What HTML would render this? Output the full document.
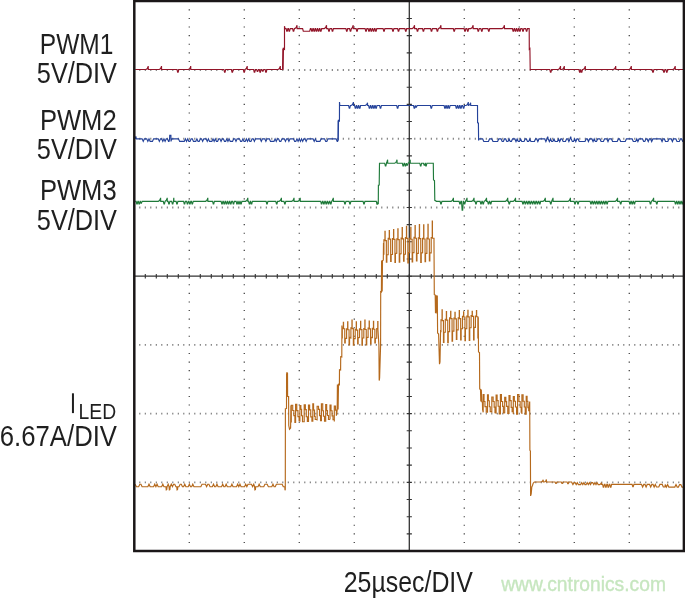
<!DOCTYPE html>
<html><head><meta charset="utf-8"><title>PWM dimming waveforms</title>
<style>html,body{margin:0;padding:0;background:#fff;}body{width:685px;height:600px;overflow:hidden;font-family:"Liberation Sans",sans-serif;}</style>
</head><body>
<svg width="685" height="600" viewBox="0 0 685 600" style="display:block">
<rect x="0" y="0" width="685" height="600" fill="#ffffff"/>
<path d="M188.60 9.89h1.4M188.60 18.48h1.4M188.60 27.07h1.4M188.60 35.66h1.4M188.60 44.25h1.4M188.60 52.84h1.4M188.60 61.43h1.4M188.60 78.61h1.4M188.60 87.20h1.4M188.60 95.79h1.4M188.60 104.38h1.4M188.60 112.97h1.4M188.60 121.56h1.4M188.60 130.15h1.4M188.60 147.33h1.4M188.60 155.92h1.4M188.60 164.51h1.4M188.60 173.10h1.4M188.60 181.69h1.4M188.60 190.28h1.4M188.60 198.87h1.4M188.60 216.05h1.4M188.60 224.64h1.4M188.60 233.23h1.4M188.60 241.82h1.4M188.60 250.41h1.4M188.60 259.00h1.4M188.60 267.59h1.4M188.60 284.77h1.4M188.60 293.36h1.4M188.60 301.95h1.4M188.60 310.54h1.4M188.60 319.13h1.4M188.60 327.72h1.4M188.60 336.31h1.4M188.60 353.49h1.4M188.60 362.08h1.4M188.60 370.67h1.4M188.60 379.26h1.4M188.60 387.85h1.4M188.60 396.44h1.4M188.60 405.03h1.4M188.60 422.21h1.4M188.60 430.80h1.4M188.60 439.39h1.4M188.60 447.98h1.4M188.60 456.57h1.4M188.60 465.16h1.4M188.60 473.75h1.4M188.60 490.93h1.4M188.60 499.52h1.4M188.60 508.11h1.4M188.60 516.70h1.4M188.60 525.29h1.4M188.60 533.88h1.4M188.60 542.47h1.4M243.60 9.89h1.4M243.60 18.48h1.4M243.60 27.07h1.4M243.60 35.66h1.4M243.60 44.25h1.4M243.60 52.84h1.4M243.60 61.43h1.4M243.60 78.61h1.4M243.60 87.20h1.4M243.60 95.79h1.4M243.60 104.38h1.4M243.60 112.97h1.4M243.60 121.56h1.4M243.60 130.15h1.4M243.60 147.33h1.4M243.60 155.92h1.4M243.60 164.51h1.4M243.60 173.10h1.4M243.60 181.69h1.4M243.60 190.28h1.4M243.60 198.87h1.4M243.60 216.05h1.4M243.60 224.64h1.4M243.60 233.23h1.4M243.60 241.82h1.4M243.60 250.41h1.4M243.60 259.00h1.4M243.60 267.59h1.4M243.60 284.77h1.4M243.60 293.36h1.4M243.60 301.95h1.4M243.60 310.54h1.4M243.60 319.13h1.4M243.60 327.72h1.4M243.60 336.31h1.4M243.60 353.49h1.4M243.60 362.08h1.4M243.60 370.67h1.4M243.60 379.26h1.4M243.60 387.85h1.4M243.60 396.44h1.4M243.60 405.03h1.4M243.60 422.21h1.4M243.60 430.80h1.4M243.60 439.39h1.4M243.60 447.98h1.4M243.60 456.57h1.4M243.60 465.16h1.4M243.60 473.75h1.4M243.60 490.93h1.4M243.60 499.52h1.4M243.60 508.11h1.4M243.60 516.70h1.4M243.60 525.29h1.4M243.60 533.88h1.4M243.60 542.47h1.4M298.60 9.89h1.4M298.60 18.48h1.4M298.60 27.07h1.4M298.60 35.66h1.4M298.60 44.25h1.4M298.60 52.84h1.4M298.60 61.43h1.4M298.60 78.61h1.4M298.60 87.20h1.4M298.60 95.79h1.4M298.60 104.38h1.4M298.60 112.97h1.4M298.60 121.56h1.4M298.60 130.15h1.4M298.60 147.33h1.4M298.60 155.92h1.4M298.60 164.51h1.4M298.60 173.10h1.4M298.60 181.69h1.4M298.60 190.28h1.4M298.60 198.87h1.4M298.60 216.05h1.4M298.60 224.64h1.4M298.60 233.23h1.4M298.60 241.82h1.4M298.60 250.41h1.4M298.60 259.00h1.4M298.60 267.59h1.4M298.60 284.77h1.4M298.60 293.36h1.4M298.60 301.95h1.4M298.60 310.54h1.4M298.60 319.13h1.4M298.60 327.72h1.4M298.60 336.31h1.4M298.60 353.49h1.4M298.60 362.08h1.4M298.60 370.67h1.4M298.60 379.26h1.4M298.60 387.85h1.4M298.60 396.44h1.4M298.60 405.03h1.4M298.60 422.21h1.4M298.60 430.80h1.4M298.60 439.39h1.4M298.60 447.98h1.4M298.60 456.57h1.4M298.60 465.16h1.4M298.60 473.75h1.4M298.60 490.93h1.4M298.60 499.52h1.4M298.60 508.11h1.4M298.60 516.70h1.4M298.60 525.29h1.4M298.60 533.88h1.4M298.60 542.47h1.4M353.60 9.89h1.4M353.60 18.48h1.4M353.60 27.07h1.4M353.60 35.66h1.4M353.60 44.25h1.4M353.60 52.84h1.4M353.60 61.43h1.4M353.60 78.61h1.4M353.60 87.20h1.4M353.60 95.79h1.4M353.60 104.38h1.4M353.60 112.97h1.4M353.60 121.56h1.4M353.60 130.15h1.4M353.60 147.33h1.4M353.60 155.92h1.4M353.60 164.51h1.4M353.60 173.10h1.4M353.60 181.69h1.4M353.60 190.28h1.4M353.60 198.87h1.4M353.60 216.05h1.4M353.60 224.64h1.4M353.60 233.23h1.4M353.60 241.82h1.4M353.60 250.41h1.4M353.60 259.00h1.4M353.60 267.59h1.4M353.60 284.77h1.4M353.60 293.36h1.4M353.60 301.95h1.4M353.60 310.54h1.4M353.60 319.13h1.4M353.60 327.72h1.4M353.60 336.31h1.4M353.60 353.49h1.4M353.60 362.08h1.4M353.60 370.67h1.4M353.60 379.26h1.4M353.60 387.85h1.4M353.60 396.44h1.4M353.60 405.03h1.4M353.60 422.21h1.4M353.60 430.80h1.4M353.60 439.39h1.4M353.60 447.98h1.4M353.60 456.57h1.4M353.60 465.16h1.4M353.60 473.75h1.4M353.60 490.93h1.4M353.60 499.52h1.4M353.60 508.11h1.4M353.60 516.70h1.4M353.60 525.29h1.4M353.60 533.88h1.4M353.60 542.47h1.4M463.60 9.89h1.4M463.60 18.48h1.4M463.60 27.07h1.4M463.60 35.66h1.4M463.60 44.25h1.4M463.60 52.84h1.4M463.60 61.43h1.4M463.60 78.61h1.4M463.60 87.20h1.4M463.60 95.79h1.4M463.60 104.38h1.4M463.60 112.97h1.4M463.60 121.56h1.4M463.60 130.15h1.4M463.60 147.33h1.4M463.60 155.92h1.4M463.60 164.51h1.4M463.60 173.10h1.4M463.60 181.69h1.4M463.60 190.28h1.4M463.60 198.87h1.4M463.60 216.05h1.4M463.60 224.64h1.4M463.60 233.23h1.4M463.60 241.82h1.4M463.60 250.41h1.4M463.60 259.00h1.4M463.60 267.59h1.4M463.60 284.77h1.4M463.60 293.36h1.4M463.60 301.95h1.4M463.60 310.54h1.4M463.60 319.13h1.4M463.60 327.72h1.4M463.60 336.31h1.4M463.60 353.49h1.4M463.60 362.08h1.4M463.60 370.67h1.4M463.60 379.26h1.4M463.60 387.85h1.4M463.60 396.44h1.4M463.60 405.03h1.4M463.60 422.21h1.4M463.60 430.80h1.4M463.60 439.39h1.4M463.60 447.98h1.4M463.60 456.57h1.4M463.60 465.16h1.4M463.60 473.75h1.4M463.60 490.93h1.4M463.60 499.52h1.4M463.60 508.11h1.4M463.60 516.70h1.4M463.60 525.29h1.4M463.60 533.88h1.4M463.60 542.47h1.4M518.60 9.89h1.4M518.60 18.48h1.4M518.60 27.07h1.4M518.60 35.66h1.4M518.60 44.25h1.4M518.60 52.84h1.4M518.60 61.43h1.4M518.60 78.61h1.4M518.60 87.20h1.4M518.60 95.79h1.4M518.60 104.38h1.4M518.60 112.97h1.4M518.60 121.56h1.4M518.60 130.15h1.4M518.60 147.33h1.4M518.60 155.92h1.4M518.60 164.51h1.4M518.60 173.10h1.4M518.60 181.69h1.4M518.60 190.28h1.4M518.60 198.87h1.4M518.60 216.05h1.4M518.60 224.64h1.4M518.60 233.23h1.4M518.60 241.82h1.4M518.60 250.41h1.4M518.60 259.00h1.4M518.60 267.59h1.4M518.60 284.77h1.4M518.60 293.36h1.4M518.60 301.95h1.4M518.60 310.54h1.4M518.60 319.13h1.4M518.60 327.72h1.4M518.60 336.31h1.4M518.60 353.49h1.4M518.60 362.08h1.4M518.60 370.67h1.4M518.60 379.26h1.4M518.60 387.85h1.4M518.60 396.44h1.4M518.60 405.03h1.4M518.60 422.21h1.4M518.60 430.80h1.4M518.60 439.39h1.4M518.60 447.98h1.4M518.60 456.57h1.4M518.60 465.16h1.4M518.60 473.75h1.4M518.60 490.93h1.4M518.60 499.52h1.4M518.60 508.11h1.4M518.60 516.70h1.4M518.60 525.29h1.4M518.60 533.88h1.4M518.60 542.47h1.4M573.60 9.89h1.4M573.60 18.48h1.4M573.60 27.07h1.4M573.60 35.66h1.4M573.60 44.25h1.4M573.60 52.84h1.4M573.60 61.43h1.4M573.60 78.61h1.4M573.60 87.20h1.4M573.60 95.79h1.4M573.60 104.38h1.4M573.60 112.97h1.4M573.60 121.56h1.4M573.60 130.15h1.4M573.60 147.33h1.4M573.60 155.92h1.4M573.60 164.51h1.4M573.60 173.10h1.4M573.60 181.69h1.4M573.60 190.28h1.4M573.60 198.87h1.4M573.60 216.05h1.4M573.60 224.64h1.4M573.60 233.23h1.4M573.60 241.82h1.4M573.60 250.41h1.4M573.60 259.00h1.4M573.60 267.59h1.4M573.60 284.77h1.4M573.60 293.36h1.4M573.60 301.95h1.4M573.60 310.54h1.4M573.60 319.13h1.4M573.60 327.72h1.4M573.60 336.31h1.4M573.60 353.49h1.4M573.60 362.08h1.4M573.60 370.67h1.4M573.60 379.26h1.4M573.60 387.85h1.4M573.60 396.44h1.4M573.60 405.03h1.4M573.60 422.21h1.4M573.60 430.80h1.4M573.60 439.39h1.4M573.60 447.98h1.4M573.60 456.57h1.4M573.60 465.16h1.4M573.60 473.75h1.4M573.60 490.93h1.4M573.60 499.52h1.4M573.60 508.11h1.4M573.60 516.70h1.4M573.60 525.29h1.4M573.60 533.88h1.4M573.60 542.47h1.4M628.60 9.89h1.4M628.60 18.48h1.4M628.60 27.07h1.4M628.60 35.66h1.4M628.60 44.25h1.4M628.60 52.84h1.4M628.60 61.43h1.4M628.60 78.61h1.4M628.60 87.20h1.4M628.60 95.79h1.4M628.60 104.38h1.4M628.60 112.97h1.4M628.60 121.56h1.4M628.60 130.15h1.4M628.60 147.33h1.4M628.60 155.92h1.4M628.60 164.51h1.4M628.60 173.10h1.4M628.60 181.69h1.4M628.60 190.28h1.4M628.60 198.87h1.4M628.60 216.05h1.4M628.60 224.64h1.4M628.60 233.23h1.4M628.60 241.82h1.4M628.60 250.41h1.4M628.60 259.00h1.4M628.60 267.59h1.4M628.60 284.77h1.4M628.60 293.36h1.4M628.60 301.95h1.4M628.60 310.54h1.4M628.60 319.13h1.4M628.60 327.72h1.4M628.60 336.31h1.4M628.60 353.49h1.4M628.60 362.08h1.4M628.60 370.67h1.4M628.60 379.26h1.4M628.60 387.85h1.4M628.60 396.44h1.4M628.60 405.03h1.4M628.60 422.21h1.4M628.60 430.80h1.4M628.60 439.39h1.4M628.60 447.98h1.4M628.60 456.57h1.4M628.60 465.16h1.4M628.60 473.75h1.4M628.60 490.93h1.4M628.60 499.52h1.4M628.60 508.11h1.4M628.60 516.70h1.4M628.60 525.29h1.4M628.60 533.88h1.4M628.60 542.47h1.4" stroke="#3a3a3a" stroke-width="1.1" fill="none" stroke-opacity="0.88"/>
<path d="M139.80 69.07v1.9M145.30 69.07v1.9M150.80 69.07v1.9M156.30 69.07v1.9M161.80 69.07v1.9M167.30 69.07v1.9M172.80 69.07v1.9M178.30 69.07v1.9M183.80 69.07v1.9M189.30 69.07v1.9M194.80 69.07v1.9M200.30 69.07v1.9M205.80 69.07v1.9M211.30 69.07v1.9M216.80 69.07v1.9M222.30 69.07v1.9M227.80 69.07v1.9M233.30 69.07v1.9M238.80 69.07v1.9M244.30 69.07v1.9M249.80 69.07v1.9M255.30 69.07v1.9M260.80 69.07v1.9M266.30 69.07v1.9M271.80 69.07v1.9M277.30 69.07v1.9M282.80 69.07v1.9M288.30 69.07v1.9M293.80 69.07v1.9M299.30 69.07v1.9M304.80 69.07v1.9M310.30 69.07v1.9M315.80 69.07v1.9M321.30 69.07v1.9M326.80 69.07v1.9M332.30 69.07v1.9M337.80 69.07v1.9M343.30 69.07v1.9M348.80 69.07v1.9M354.30 69.07v1.9M359.80 69.07v1.9M365.30 69.07v1.9M370.80 69.07v1.9M376.30 69.07v1.9M381.80 69.07v1.9M387.30 69.07v1.9M392.80 69.07v1.9M398.30 69.07v1.9M403.80 69.07v1.9M409.30 69.07v1.9M414.80 69.07v1.9M420.30 69.07v1.9M425.80 69.07v1.9M431.30 69.07v1.9M436.80 69.07v1.9M442.30 69.07v1.9M447.80 69.07v1.9M453.30 69.07v1.9M458.80 69.07v1.9M464.30 69.07v1.9M469.80 69.07v1.9M475.30 69.07v1.9M480.80 69.07v1.9M486.30 69.07v1.9M491.80 69.07v1.9M497.30 69.07v1.9M502.80 69.07v1.9M508.30 69.07v1.9M513.80 69.07v1.9M519.30 69.07v1.9M524.80 69.07v1.9M530.30 69.07v1.9M535.80 69.07v1.9M541.30 69.07v1.9M546.80 69.07v1.9M552.30 69.07v1.9M557.80 69.07v1.9M563.30 69.07v1.9M568.80 69.07v1.9M574.30 69.07v1.9M579.80 69.07v1.9M585.30 69.07v1.9M590.80 69.07v1.9M596.30 69.07v1.9M601.80 69.07v1.9M607.30 69.07v1.9M612.80 69.07v1.9M618.30 69.07v1.9M623.80 69.07v1.9M629.30 69.07v1.9M634.80 69.07v1.9M640.30 69.07v1.9M645.80 69.07v1.9M651.30 69.07v1.9M656.80 69.07v1.9M662.30 69.07v1.9M667.80 69.07v1.9M673.30 69.07v1.9M678.80 69.07v1.9M139.80 137.79v1.9M145.30 137.79v1.9M150.80 137.79v1.9M156.30 137.79v1.9M161.80 137.79v1.9M167.30 137.79v1.9M172.80 137.79v1.9M178.30 137.79v1.9M183.80 137.79v1.9M189.30 137.79v1.9M194.80 137.79v1.9M200.30 137.79v1.9M205.80 137.79v1.9M211.30 137.79v1.9M216.80 137.79v1.9M222.30 137.79v1.9M227.80 137.79v1.9M233.30 137.79v1.9M238.80 137.79v1.9M244.30 137.79v1.9M249.80 137.79v1.9M255.30 137.79v1.9M260.80 137.79v1.9M266.30 137.79v1.9M271.80 137.79v1.9M277.30 137.79v1.9M282.80 137.79v1.9M288.30 137.79v1.9M293.80 137.79v1.9M299.30 137.79v1.9M304.80 137.79v1.9M310.30 137.79v1.9M315.80 137.79v1.9M321.30 137.79v1.9M326.80 137.79v1.9M332.30 137.79v1.9M337.80 137.79v1.9M343.30 137.79v1.9M348.80 137.79v1.9M354.30 137.79v1.9M359.80 137.79v1.9M365.30 137.79v1.9M370.80 137.79v1.9M376.30 137.79v1.9M381.80 137.79v1.9M387.30 137.79v1.9M392.80 137.79v1.9M398.30 137.79v1.9M403.80 137.79v1.9M409.30 137.79v1.9M414.80 137.79v1.9M420.30 137.79v1.9M425.80 137.79v1.9M431.30 137.79v1.9M436.80 137.79v1.9M442.30 137.79v1.9M447.80 137.79v1.9M453.30 137.79v1.9M458.80 137.79v1.9M464.30 137.79v1.9M469.80 137.79v1.9M475.30 137.79v1.9M480.80 137.79v1.9M486.30 137.79v1.9M491.80 137.79v1.9M497.30 137.79v1.9M502.80 137.79v1.9M508.30 137.79v1.9M513.80 137.79v1.9M519.30 137.79v1.9M524.80 137.79v1.9M530.30 137.79v1.9M535.80 137.79v1.9M541.30 137.79v1.9M546.80 137.79v1.9M552.30 137.79v1.9M557.80 137.79v1.9M563.30 137.79v1.9M568.80 137.79v1.9M574.30 137.79v1.9M579.80 137.79v1.9M585.30 137.79v1.9M590.80 137.79v1.9M596.30 137.79v1.9M601.80 137.79v1.9M607.30 137.79v1.9M612.80 137.79v1.9M618.30 137.79v1.9M623.80 137.79v1.9M629.30 137.79v1.9M634.80 137.79v1.9M640.30 137.79v1.9M645.80 137.79v1.9M651.30 137.79v1.9M656.80 137.79v1.9M662.30 137.79v1.9M667.80 137.79v1.9M673.30 137.79v1.9M678.80 137.79v1.9M139.80 206.51v1.9M145.30 206.51v1.9M150.80 206.51v1.9M156.30 206.51v1.9M161.80 206.51v1.9M167.30 206.51v1.9M172.80 206.51v1.9M178.30 206.51v1.9M183.80 206.51v1.9M189.30 206.51v1.9M194.80 206.51v1.9M200.30 206.51v1.9M205.80 206.51v1.9M211.30 206.51v1.9M216.80 206.51v1.9M222.30 206.51v1.9M227.80 206.51v1.9M233.30 206.51v1.9M238.80 206.51v1.9M244.30 206.51v1.9M249.80 206.51v1.9M255.30 206.51v1.9M260.80 206.51v1.9M266.30 206.51v1.9M271.80 206.51v1.9M277.30 206.51v1.9M282.80 206.51v1.9M288.30 206.51v1.9M293.80 206.51v1.9M299.30 206.51v1.9M304.80 206.51v1.9M310.30 206.51v1.9M315.80 206.51v1.9M321.30 206.51v1.9M326.80 206.51v1.9M332.30 206.51v1.9M337.80 206.51v1.9M343.30 206.51v1.9M348.80 206.51v1.9M354.30 206.51v1.9M359.80 206.51v1.9M365.30 206.51v1.9M370.80 206.51v1.9M376.30 206.51v1.9M381.80 206.51v1.9M387.30 206.51v1.9M392.80 206.51v1.9M398.30 206.51v1.9M403.80 206.51v1.9M409.30 206.51v1.9M414.80 206.51v1.9M420.30 206.51v1.9M425.80 206.51v1.9M431.30 206.51v1.9M436.80 206.51v1.9M442.30 206.51v1.9M447.80 206.51v1.9M453.30 206.51v1.9M458.80 206.51v1.9M464.30 206.51v1.9M469.80 206.51v1.9M475.30 206.51v1.9M480.80 206.51v1.9M486.30 206.51v1.9M491.80 206.51v1.9M497.30 206.51v1.9M502.80 206.51v1.9M508.30 206.51v1.9M513.80 206.51v1.9M519.30 206.51v1.9M524.80 206.51v1.9M530.30 206.51v1.9M535.80 206.51v1.9M541.30 206.51v1.9M546.80 206.51v1.9M552.30 206.51v1.9M557.80 206.51v1.9M563.30 206.51v1.9M568.80 206.51v1.9M574.30 206.51v1.9M579.80 206.51v1.9M585.30 206.51v1.9M590.80 206.51v1.9M596.30 206.51v1.9M601.80 206.51v1.9M607.30 206.51v1.9M612.80 206.51v1.9M618.30 206.51v1.9M623.80 206.51v1.9M629.30 206.51v1.9M634.80 206.51v1.9M640.30 206.51v1.9M645.80 206.51v1.9M651.30 206.51v1.9M656.80 206.51v1.9M662.30 206.51v1.9M667.80 206.51v1.9M673.30 206.51v1.9M678.80 206.51v1.9M139.80 343.95v1.9M145.30 343.95v1.9M150.80 343.95v1.9M156.30 343.95v1.9M161.80 343.95v1.9M167.30 343.95v1.9M172.80 343.95v1.9M178.30 343.95v1.9M183.80 343.95v1.9M189.30 343.95v1.9M194.80 343.95v1.9M200.30 343.95v1.9M205.80 343.95v1.9M211.30 343.95v1.9M216.80 343.95v1.9M222.30 343.95v1.9M227.80 343.95v1.9M233.30 343.95v1.9M238.80 343.95v1.9M244.30 343.95v1.9M249.80 343.95v1.9M255.30 343.95v1.9M260.80 343.95v1.9M266.30 343.95v1.9M271.80 343.95v1.9M277.30 343.95v1.9M282.80 343.95v1.9M288.30 343.95v1.9M293.80 343.95v1.9M299.30 343.95v1.9M304.80 343.95v1.9M310.30 343.95v1.9M315.80 343.95v1.9M321.30 343.95v1.9M326.80 343.95v1.9M332.30 343.95v1.9M337.80 343.95v1.9M343.30 343.95v1.9M348.80 343.95v1.9M354.30 343.95v1.9M359.80 343.95v1.9M365.30 343.95v1.9M370.80 343.95v1.9M376.30 343.95v1.9M381.80 343.95v1.9M387.30 343.95v1.9M392.80 343.95v1.9M398.30 343.95v1.9M403.80 343.95v1.9M409.30 343.95v1.9M414.80 343.95v1.9M420.30 343.95v1.9M425.80 343.95v1.9M431.30 343.95v1.9M436.80 343.95v1.9M442.30 343.95v1.9M447.80 343.95v1.9M453.30 343.95v1.9M458.80 343.95v1.9M464.30 343.95v1.9M469.80 343.95v1.9M475.30 343.95v1.9M480.80 343.95v1.9M486.30 343.95v1.9M491.80 343.95v1.9M497.30 343.95v1.9M502.80 343.95v1.9M508.30 343.95v1.9M513.80 343.95v1.9M519.30 343.95v1.9M524.80 343.95v1.9M530.30 343.95v1.9M535.80 343.95v1.9M541.30 343.95v1.9M546.80 343.95v1.9M552.30 343.95v1.9M557.80 343.95v1.9M563.30 343.95v1.9M568.80 343.95v1.9M574.30 343.95v1.9M579.80 343.95v1.9M585.30 343.95v1.9M590.80 343.95v1.9M596.30 343.95v1.9M601.80 343.95v1.9M607.30 343.95v1.9M612.80 343.95v1.9M618.30 343.95v1.9M623.80 343.95v1.9M629.30 343.95v1.9M634.80 343.95v1.9M640.30 343.95v1.9M645.80 343.95v1.9M651.30 343.95v1.9M656.80 343.95v1.9M662.30 343.95v1.9M667.80 343.95v1.9M673.30 343.95v1.9M678.80 343.95v1.9M139.80 412.67v1.9M145.30 412.67v1.9M150.80 412.67v1.9M156.30 412.67v1.9M161.80 412.67v1.9M167.30 412.67v1.9M172.80 412.67v1.9M178.30 412.67v1.9M183.80 412.67v1.9M189.30 412.67v1.9M194.80 412.67v1.9M200.30 412.67v1.9M205.80 412.67v1.9M211.30 412.67v1.9M216.80 412.67v1.9M222.30 412.67v1.9M227.80 412.67v1.9M233.30 412.67v1.9M238.80 412.67v1.9M244.30 412.67v1.9M249.80 412.67v1.9M255.30 412.67v1.9M260.80 412.67v1.9M266.30 412.67v1.9M271.80 412.67v1.9M277.30 412.67v1.9M282.80 412.67v1.9M288.30 412.67v1.9M293.80 412.67v1.9M299.30 412.67v1.9M304.80 412.67v1.9M310.30 412.67v1.9M315.80 412.67v1.9M321.30 412.67v1.9M326.80 412.67v1.9M332.30 412.67v1.9M337.80 412.67v1.9M343.30 412.67v1.9M348.80 412.67v1.9M354.30 412.67v1.9M359.80 412.67v1.9M365.30 412.67v1.9M370.80 412.67v1.9M376.30 412.67v1.9M381.80 412.67v1.9M387.30 412.67v1.9M392.80 412.67v1.9M398.30 412.67v1.9M403.80 412.67v1.9M409.30 412.67v1.9M414.80 412.67v1.9M420.30 412.67v1.9M425.80 412.67v1.9M431.30 412.67v1.9M436.80 412.67v1.9M442.30 412.67v1.9M447.80 412.67v1.9M453.30 412.67v1.9M458.80 412.67v1.9M464.30 412.67v1.9M469.80 412.67v1.9M475.30 412.67v1.9M480.80 412.67v1.9M486.30 412.67v1.9M491.80 412.67v1.9M497.30 412.67v1.9M502.80 412.67v1.9M508.30 412.67v1.9M513.80 412.67v1.9M519.30 412.67v1.9M524.80 412.67v1.9M530.30 412.67v1.9M535.80 412.67v1.9M541.30 412.67v1.9M546.80 412.67v1.9M552.30 412.67v1.9M557.80 412.67v1.9M563.30 412.67v1.9M568.80 412.67v1.9M574.30 412.67v1.9M579.80 412.67v1.9M585.30 412.67v1.9M590.80 412.67v1.9M596.30 412.67v1.9M601.80 412.67v1.9M607.30 412.67v1.9M612.80 412.67v1.9M618.30 412.67v1.9M623.80 412.67v1.9M629.30 412.67v1.9M634.80 412.67v1.9M640.30 412.67v1.9M645.80 412.67v1.9M651.30 412.67v1.9M656.80 412.67v1.9M662.30 412.67v1.9M667.80 412.67v1.9M673.30 412.67v1.9M678.80 412.67v1.9M139.80 481.39v1.9M145.30 481.39v1.9M150.80 481.39v1.9M156.30 481.39v1.9M161.80 481.39v1.9M167.30 481.39v1.9M172.80 481.39v1.9M178.30 481.39v1.9M183.80 481.39v1.9M189.30 481.39v1.9M194.80 481.39v1.9M200.30 481.39v1.9M205.80 481.39v1.9M211.30 481.39v1.9M216.80 481.39v1.9M222.30 481.39v1.9M227.80 481.39v1.9M233.30 481.39v1.9M238.80 481.39v1.9M244.30 481.39v1.9M249.80 481.39v1.9M255.30 481.39v1.9M260.80 481.39v1.9M266.30 481.39v1.9M271.80 481.39v1.9M277.30 481.39v1.9M282.80 481.39v1.9M288.30 481.39v1.9M293.80 481.39v1.9M299.30 481.39v1.9M304.80 481.39v1.9M310.30 481.39v1.9M315.80 481.39v1.9M321.30 481.39v1.9M326.80 481.39v1.9M332.30 481.39v1.9M337.80 481.39v1.9M343.30 481.39v1.9M348.80 481.39v1.9M354.30 481.39v1.9M359.80 481.39v1.9M365.30 481.39v1.9M370.80 481.39v1.9M376.30 481.39v1.9M381.80 481.39v1.9M387.30 481.39v1.9M392.80 481.39v1.9M398.30 481.39v1.9M403.80 481.39v1.9M409.30 481.39v1.9M414.80 481.39v1.9M420.30 481.39v1.9M425.80 481.39v1.9M431.30 481.39v1.9M436.80 481.39v1.9M442.30 481.39v1.9M447.80 481.39v1.9M453.30 481.39v1.9M458.80 481.39v1.9M464.30 481.39v1.9M469.80 481.39v1.9M475.30 481.39v1.9M480.80 481.39v1.9M486.30 481.39v1.9M491.80 481.39v1.9M497.30 481.39v1.9M502.80 481.39v1.9M508.30 481.39v1.9M513.80 481.39v1.9M519.30 481.39v1.9M524.80 481.39v1.9M530.30 481.39v1.9M535.80 481.39v1.9M541.30 481.39v1.9M546.80 481.39v1.9M552.30 481.39v1.9M557.80 481.39v1.9M563.30 481.39v1.9M568.80 481.39v1.9M574.30 481.39v1.9M579.80 481.39v1.9M585.30 481.39v1.9M590.80 481.39v1.9M596.30 481.39v1.9M601.80 481.39v1.9M607.30 481.39v1.9M612.80 481.39v1.9M618.30 481.39v1.9M623.80 481.39v1.9M629.30 481.39v1.9M634.80 481.39v1.9M640.30 481.39v1.9M645.80 481.39v1.9M651.30 481.39v1.9M656.80 481.39v1.9M662.30 481.39v1.9M667.80 481.39v1.9M673.30 481.39v1.9M678.80 481.39v1.9" stroke="#3a3a3a" stroke-width="1.05" fill="none" stroke-opacity="0.72"/>
<path d="M409.30 1.3V551.06M134.3 276.18H684.30" stroke="#333333" stroke-width="1.3" fill="none"/>
<path d="M145.30 273.88v4.6M156.30 273.88v4.6M167.30 273.88v4.6M178.30 273.88v4.6M189.30 273.88v4.6M200.30 273.88v4.6M211.30 273.88v4.6M222.30 273.88v4.6M233.30 273.88v4.6M244.30 273.88v4.6M255.30 273.88v4.6M266.30 273.88v4.6M277.30 273.88v4.6M288.30 273.88v4.6M299.30 273.88v4.6M310.30 273.88v4.6M321.30 273.88v4.6M332.30 273.88v4.6M343.30 273.88v4.6M354.30 273.88v4.6M365.30 273.88v4.6M376.30 273.88v4.6M387.30 273.88v4.6M398.30 273.88v4.6M409.30 273.88v4.6M420.30 273.88v4.6M431.30 273.88v4.6M442.30 273.88v4.6M453.30 273.88v4.6M464.30 273.88v4.6M475.30 273.88v4.6M486.30 273.88v4.6M497.30 273.88v4.6M508.30 273.88v4.6M519.30 273.88v4.6M530.30 273.88v4.6M541.30 273.88v4.6M552.30 273.88v4.6M563.30 273.88v4.6M574.30 273.88v4.6M585.30 273.88v4.6M596.30 273.88v4.6M607.30 273.88v4.6M618.30 273.88v4.6M629.30 273.88v4.6M640.30 273.88v4.6M651.30 273.88v4.6M662.30 273.88v4.6M673.30 273.88v4.6M406.70 18.48h5.2M406.70 35.66h5.2M406.70 52.84h5.2M406.70 70.02h5.2M406.70 87.20h5.2M406.70 104.38h5.2M406.70 121.56h5.2M406.70 138.74h5.2M406.70 155.92h5.2M406.70 173.10h5.2M406.70 190.28h5.2M406.70 207.46h5.2M406.70 224.64h5.2M406.70 241.82h5.2M406.70 259.00h5.2M406.70 276.18h5.2M406.70 293.36h5.2M406.70 310.54h5.2M406.70 327.72h5.2M406.70 344.90h5.2M406.70 362.08h5.2M406.70 379.26h5.2M406.70 396.44h5.2M406.70 413.62h5.2M406.70 430.80h5.2M406.70 447.98h5.2M406.70 465.16h5.2M406.70 482.34h5.2M406.70 499.52h5.2M406.70 516.70h5.2M406.70 533.88h5.2" stroke="#333333" stroke-width="1.1" fill="none"/>
<path d="M135.20 69.50 L145.90 69.50 L147.10 68.72 L147.80 67.55 L148.20 66.12 L148.32 69.50 L159.20 69.50 L160.40 68.72 L161.10 67.55 L161.50 66.12 L161.62 69.50 L177.00 69.50 L177.65 72.10 L178.15 72.10 L178.80 69.50 L188.40 69.50 L189.60 68.72 L190.30 67.55 L190.70 66.12 L190.82 69.50 L223.90 69.50 L224.55 72.10 L225.05 72.10 L225.70 69.50 L231.40 69.50 L232.05 72.10 L232.55 72.10 L233.20 69.50 L243.30 69.50 L243.95 72.10 L244.45 72.10 L245.10 69.50 L245.15 69.50 L246.10 68.72 L246.80 67.55 L247.20 66.12 L247.32 69.50 L253.60 69.50 L254.25 72.10 L254.75 72.10 L255.40 69.50 L256.60 69.50 L257.25 71.32 L257.75 71.32 L258.40 69.50 L259.30 69.50 L259.95 72.10 L260.45 72.10 L261.10 69.50 L261.90 69.50 L262.55 71.06 L263.05 71.06 L263.70 69.50 L265.10 69.50 L265.75 72.10 L266.25 72.10 L266.90 69.50 L278.00 69.50 L279.20 68.72 L279.90 67.55 L280.30 66.12 L280.42 69.50 L282.60 69.50 L282.55 69.70 L282.85 48.50 L283.15 69.70 L283.45 48.50 L284.50 49.30 L284.50 26.20 L285.00 28.60 L285.20 28.60 L286.10 28.60 L286.75 31.20 L287.25 31.20 L287.90 28.60 L288.40 28.60 L289.05 31.20 L289.55 31.20 L290.20 28.60 L292.60 28.60 L293.25 31.20 L293.75 31.20 L294.40 28.60 L294.70 28.60 L295.90 27.82 L296.60 26.65 L297.00 25.22 L297.12 28.60 L302.60 28.60 L303.30 31.20 L309.70 31.20 L310.40 28.60 L311.10 28.60 L311.75 31.20 L312.25 31.20 L312.90 28.60 L313.30 28.60 L313.95 31.20 L314.45 31.20 L315.10 28.60 L315.50 28.60 L316.15 31.20 L316.65 31.20 L317.30 28.60 L317.70 28.60 L318.35 31.20 L318.85 31.20 L319.50 28.60 L319.90 28.60 L320.55 31.20 L321.05 31.20 L321.70 28.60 L324.20 28.60 L325.40 27.82 L326.10 26.65 L326.50 25.22 L326.62 28.60 L328.10 28.60 L328.75 31.20 L329.25 31.20 L329.90 28.60 L331.60 28.60 L332.25 31.20 L332.75 31.20 L333.40 28.60 L345.90 28.60 L346.55 31.20 L347.05 31.20 L347.70 28.60 L349.60 28.60 L350.25 31.20 L350.75 31.20 L351.40 28.60 L351.45 28.60 L352.10 27.82 L352.80 26.65 L353.20 25.22 L353.32 28.60 L356.10 28.60 L356.75 31.20 L357.25 31.20 L357.90 28.60 L365.10 28.60 L365.75 31.20 L366.25 31.20 L366.90 28.60 L368.10 28.60 L368.75 31.20 L369.25 31.20 L369.90 28.60 L370.40 28.60 L371.05 31.20 L371.55 31.20 L372.20 28.60 L372.70 28.60 L373.35 31.20 L373.85 31.20 L374.50 28.60 L375.00 28.60 L375.65 31.20 L376.15 31.20 L376.80 28.60 L383.10 28.60 L383.75 31.20 L384.25 31.20 L384.90 28.60 L392.10 28.60 L392.75 31.20 L393.25 31.20 L393.90 28.60 L397.60 28.60 L398.25 31.20 L398.75 31.20 L399.40 28.60 L404.90 28.60 L405.55 31.20 L406.05 31.20 L406.70 28.60 L412.20 28.60 L413.40 27.82 L414.10 26.65 L414.50 25.22 L414.62 28.60 L416.60 28.60 L417.25 31.20 L417.75 31.20 L418.40 28.60 L422.50 28.60 L423.15 31.20 L423.65 31.20 L424.30 28.60 L430.60 28.60 L431.25 31.20 L431.75 31.20 L432.40 28.60 L436.50 28.60 L437.15 31.20 L437.65 31.20 L438.30 28.60 L438.60 28.60 L439.80 27.82 L440.50 26.65 L440.90 25.22 L441.02 28.60 L453.30 28.60 L453.95 31.20 L454.45 31.20 L455.10 28.60 L464.10 28.60 L464.75 31.20 L465.25 31.20 L465.90 28.60 L466.90 28.60 L467.55 31.20 L468.05 31.20 L468.70 28.60 L470.80 28.60 L472.00 27.82 L472.70 26.65 L473.10 25.22 L473.22 28.60 L477.40 28.60 L478.05 31.20 L478.55 31.20 L479.20 28.60 L480.90 28.60 L481.55 31.20 L482.05 31.20 L482.70 28.60 L487.90 28.60 L488.55 31.20 L489.05 31.20 L489.70 28.60 L502.10 28.60 L503.30 27.82 L504.00 26.65 L504.40 25.22 L504.52 28.60 L512.40 28.60 L513.05 31.20 L513.55 31.20 L514.20 28.60 L514.60 28.60 L515.25 31.20 L515.75 31.20 L516.40 28.60 L516.80 28.60 L517.45 31.20 L517.95 31.20 L518.60 28.60 L519.00 28.60 L519.65 31.20 L520.15 31.20 L520.80 28.60 L522.10 28.60 L522.75 31.20 L523.25 31.20 L523.90 28.60 L525.70 28.60 L526.35 31.20 L526.85 31.20 L527.50 28.60 L529.00 28.60 L529.20 28.60 L529.30 49.20 L529.90 48.60 L530.20 69.70 L530.60 69.50 L549.80 69.50 L550.45 72.10 L550.95 72.10 L551.60 69.50 L558.20 69.50 L559.40 68.72 L560.10 67.55 L560.50 66.12 L560.62 69.50 L562.00 69.50 L563.20 68.72 L563.90 67.55 L564.30 66.12 L564.42 69.50 L578.90 69.50 L579.55 72.10 L580.05 72.10 L580.70 69.50 L580.70 69.50 L581.35 72.10 L581.85 72.10 L582.50 69.50 L583.00 69.50 L584.20 68.72 L584.90 67.55 L585.30 66.12 L585.42 69.50 L613.40 69.50 L614.60 68.72 L615.30 67.55 L615.70 66.12 L615.82 69.50 L629.00 69.50 L630.20 68.72 L630.90 67.55 L631.30 66.12 L631.42 69.50 L652.10 69.50 L652.75 72.10 L653.25 72.10 L653.90 69.50 L663.10 69.50 L663.75 72.10 L664.25 72.10 L664.90 69.50 L665.90 69.50 L666.55 72.10 L667.05 72.10 L667.70 69.50 L672.90 69.50 L674.10 68.72 L674.80 67.55 L675.20 66.12 L675.32 69.50 L683.20 69.50" stroke="#921428" stroke-width="1.15" fill="none" stroke-linejoin="miter" stroke-miterlimit="3"/>
<path d="M135.20 138.80 L135.85 136.46 L136.35 138.80 L137.50 138.80 L138.65 138.80 L139.80 138.80 L140.95 138.80 L142.10 138.80 L143.25 141.40 L144.40 138.80 L145.55 138.80 L146.70 138.80 L147.85 141.40 L149.00 138.80 L150.15 141.40 L151.30 141.40 L152.45 141.40 L153.60 138.80 L154.75 138.80 L155.90 138.80 L157.05 138.80 L158.20 138.80 L159.35 141.40 L160.50 138.80 L161.65 138.80 L162.80 141.40 L163.95 138.80 L165.10 141.40 L166.25 138.80 L167.40 138.80 L168.55 141.40 L169.00 141.40 L169.60 138.80 L169.75 135.40 L170.90 135.40 L171.05 141.40 L171.60 138.80 L172.75 138.80 L173.90 138.80 L175.05 138.80 L176.20 138.80 L177.35 138.80 L178.50 138.80 L179.65 141.40 L180.80 141.40 L181.95 141.40 L183.10 141.40 L184.25 141.40 L185.40 138.80 L186.55 141.40 L187.70 138.80 L188.85 141.40 L190.00 141.40 L191.15 138.80 L192.30 138.80 L193.45 141.40 L194.60 141.40 L195.75 141.40 L196.90 138.80 L198.05 141.40 L199.20 141.40 L200.35 138.80 L201.50 138.80 L202.65 141.40 L203.80 138.80 L204.95 138.80 L206.10 138.80 L207.25 141.40 L208.40 138.80 L209.55 141.40 L210.70 141.40 L211.85 141.40 L213.00 138.80 L214.15 141.40 L215.30 138.80 L216.45 141.40 L217.60 141.40 L218.75 138.80 L219.90 138.80 L221.05 141.40 L222.20 138.80 L223.35 138.80 L224.50 141.40 L225.65 141.40 L226.80 138.80 L227.95 141.40 L229.10 138.80 L230.25 141.40 L231.40 141.40 L232.55 141.40 L233.70 138.80 L234.85 138.80 L236.00 141.40 L237.15 138.80 L238.30 138.80 L239.45 138.80 L240.60 141.40 L241.75 141.40 L242.90 138.80 L244.05 141.40 L245.20 141.40 L246.35 138.80 L247.50 141.40 L248.65 138.80 L249.80 141.40 L250.95 141.40 L252.10 138.80 L253.25 138.80 L254.40 141.40 L255.55 138.80 L256.70 138.80 L257.85 138.80 L259.00 138.80 L260.15 138.80 L261.30 141.40 L262.45 138.80 L263.60 138.80 L264.75 138.80 L265.90 141.40 L267.05 138.80 L268.20 138.80 L269.35 138.80 L270.50 141.40 L271.65 141.40 L272.80 141.40 L273.95 141.40 L275.10 138.80 L276.25 141.40 L277.40 138.80 L278.55 138.80 L279.70 141.40 L280.85 141.40 L282.00 138.80 L283.15 138.80 L284.30 138.80 L285.45 141.40 L286.60 138.80 L287.75 138.80 L288.90 141.40 L290.05 138.80 L291.20 138.80 L292.35 138.80 L293.50 138.80 L294.65 141.40 L295.80 141.40 L296.95 138.80 L298.10 141.40 L299.25 138.80 L300.40 141.40 L301.55 138.80 L302.70 141.40 L303.85 138.80 L305.00 138.80 L306.15 141.40 L307.30 138.80 L308.45 138.80 L309.60 138.80 L310.75 138.80 L311.90 138.80 L313.05 138.80 L314.20 141.40 L315.35 138.80 L316.50 141.40 L317.65 141.40 L318.80 141.40 L319.95 141.40 L321.10 138.80 L322.25 138.80 L323.40 138.80 L324.55 138.80 L325.70 141.40 L326.85 141.40 L328.00 138.80 L329.15 138.80 L330.30 138.80 L331.45 138.80 L332.60 138.80 L333.75 138.80 L334.90 138.80 L336.05 138.80 L337.20 141.40 L337.60 141.40 L337.90 140.60 L338.10 120.40 L338.30 140.60 L338.50 120.40 L339.45 120.80 L339.50 102.00 L339.80 105.50 L340.20 105.50 L348.60 105.50 L349.25 108.10 L349.75 108.10 L350.40 105.50 L351.10 105.50 L352.30 104.72 L353.00 103.55 L353.40 102.12 L353.52 105.50 L354.60 105.50 L355.25 108.10 L355.75 108.10 L356.40 105.50 L356.70 105.50 L357.35 108.10 L357.85 108.10 L358.50 105.50 L358.80 105.50 L359.45 108.10 L359.95 108.10 L360.60 105.50 L365.20 105.50 L366.40 104.88 L367.10 103.94 L367.50 102.80 L367.62 105.50 L368.60 105.50 L369.25 108.10 L369.75 108.10 L370.40 105.50 L370.80 105.50 L371.45 108.10 L371.95 108.10 L372.60 105.50 L373.00 105.50 L373.65 108.10 L374.15 108.10 L374.80 105.50 L375.20 105.50 L375.85 108.10 L376.35 108.10 L377.00 105.50 L379.60 105.50 L380.25 108.10 L380.75 108.10 L381.40 105.50 L396.70 105.50 L397.35 108.10 L397.85 108.10 L398.50 105.50 L413.50 105.50 L414.15 108.10 L414.65 108.10 L415.30 105.50 L415.30 105.50 L415.95 107.06 L416.45 107.06 L417.10 105.50 L430.40 105.50 L431.05 108.10 L431.55 108.10 L432.20 105.50 L444.10 105.50 L444.75 108.10 L445.25 108.10 L445.90 105.50 L446.20 105.50 L446.85 108.10 L447.35 108.10 L448.00 105.50 L448.30 105.50 L448.95 108.10 L449.45 108.10 L450.10 105.50 L455.60 105.50 L456.25 108.10 L456.75 108.10 L457.40 105.50 L457.80 105.50 L458.45 108.10 L458.95 108.10 L459.60 105.50 L460.00 105.50 L460.65 108.10 L461.15 108.10 L461.80 105.50 L462.70 105.50 L463.35 108.10 L463.85 108.10 L464.50 105.50 L466.00 105.50 L467.20 104.72 L467.90 103.55 L468.30 102.12 L468.42 105.50 L468.47 105.50 L469.50 104.88 L470.20 103.94 L470.60 102.80 L470.72 105.50 L477.30 105.50 L477.50 105.50 L477.60 122.70 L478.40 122.90 L478.60 140.40 L479.20 138.90 L480.35 138.90 L481.50 138.90 L482.65 138.90 L483.80 141.50 L484.95 141.50 L486.10 141.50 L487.25 141.50 L488.40 141.50 L489.55 138.90 L490.70 138.90 L491.85 138.90 L493.00 141.50 L494.15 141.50 L495.30 141.50 L496.45 141.50 L497.60 141.50 L498.75 138.90 L499.90 138.90 L501.05 138.90 L502.20 141.50 L503.35 141.50 L504.50 138.90 L505.65 138.90 L506.80 141.50 L507.95 141.50 L509.10 138.90 L510.25 141.50 L511.40 141.50 L512.55 138.90 L513.70 138.90 L514.85 138.90 L516.00 141.50 L517.15 138.90 L518.30 141.50 L519.45 141.50 L520.60 138.90 L521.75 141.50 L522.90 141.50 L524.05 141.50 L525.20 138.90 L526.35 138.90 L527.50 141.50 L528.65 141.50 L529.80 138.90 L530.95 141.50 L532.10 141.50 L533.25 141.50 L534.40 141.50 L535.55 138.90 L536.70 138.90 L537.85 141.50 L539.00 138.90 L540.15 138.90 L541.30 138.90 L542.45 138.90 L543.60 138.90 L544.75 138.90 L545.90 141.50 L547.05 138.90 L547.70 136.56 L548.20 138.90 L549.35 141.50 L550.50 138.90 L551.65 141.50 L552.80 141.50 L553.95 138.90 L555.10 141.50 L556.25 141.50 L557.40 141.50 L558.55 138.90 L559.70 141.50 L560.85 138.90 L562.00 138.90 L563.15 141.50 L564.30 141.50 L565.45 141.50 L566.60 138.90 L567.75 138.90 L568.90 141.50 L570.05 138.90 L570.70 136.56 L571.20 138.90 L572.35 141.50 L573.50 141.50 L574.65 138.90 L575.80 141.50 L576.95 138.90 L578.10 138.90 L579.25 141.50 L580.40 141.50 L581.55 141.50 L582.70 141.50 L583.85 141.50 L585.00 141.50 L586.15 138.90 L587.30 138.90 L588.45 141.50 L589.60 138.90 L590.75 138.90 L591.90 138.90 L593.05 141.50 L594.20 138.90 L595.35 141.50 L596.50 141.50 L597.65 138.90 L598.80 138.90 L599.95 138.90 L601.10 141.50 L602.25 141.50 L603.40 141.50 L604.55 138.90 L605.70 138.90 L606.85 138.90 L608.00 141.50 L609.15 138.90 L610.30 138.90 L611.45 138.90 L612.60 141.50 L613.75 141.50 L614.90 141.50 L616.05 141.50 L617.20 141.50 L618.35 138.90 L619.50 138.90 L620.65 141.50 L621.80 141.50 L622.95 141.50 L624.10 141.50 L625.25 141.50 L626.40 138.90 L627.55 138.90 L628.70 138.90 L629.85 138.90 L631.00 138.90 L632.15 138.90 L633.30 141.50 L634.45 141.50 L635.60 141.50 L636.75 138.90 L637.90 141.50 L639.05 138.90 L640.20 138.90 L641.35 138.90 L642.50 138.90 L643.65 141.50 L644.80 141.50 L645.95 138.90 L647.10 138.90 L648.25 141.50 L649.40 138.90 L650.55 138.90 L651.70 141.50 L652.85 138.90 L654.00 138.90 L655.15 138.90 L656.30 138.90 L657.45 138.90 L658.60 138.90 L659.75 138.90 L660.90 138.90 L662.05 141.50 L663.20 138.90 L664.35 138.90 L665.50 141.50 L666.65 141.50 L667.80 141.50 L668.95 138.90 L670.10 138.90 L671.25 138.90 L672.40 141.50 L673.55 138.90 L674.70 138.90 L675.85 138.90 L677.00 141.50 L678.15 141.50 L679.30 141.50 L680.45 138.90 L681.60 138.90 L682.75 141.50 L683.20 141.50" stroke="#24429a" stroke-width="1.15" fill="none" stroke-linejoin="miter" stroke-miterlimit="3"/>
<path d="M135.20 201.30 L136.10 201.30 L136.75 204.00 L137.25 204.00 L137.90 201.30 L138.30 201.30 L138.95 204.00 L139.45 204.00 L140.10 201.30 L140.30 201.30 L140.95 203.19 L141.45 203.19 L142.10 201.30 L158.30 201.30 L159.50 200.49 L160.20 199.28 L160.60 197.79 L160.72 201.30 L163.30 201.30 L163.95 204.00 L164.45 204.00 L165.10 201.30 L165.15 201.30 L166.10 200.49 L166.80 199.28 L167.20 197.79 L167.32 201.30 L168.10 201.30 L168.75 204.00 L169.25 204.00 L169.90 201.30 L171.70 201.30 L172.35 204.00 L172.85 204.00 L173.50 201.30 L173.55 201.30 L173.60 200.49 L173.65 199.28 L173.80 197.79 L173.92 201.30 L176.10 201.30 L176.75 204.00 L177.25 204.00 L177.90 201.30 L183.60 201.30 L184.25 204.00 L184.75 204.00 L185.40 201.30 L186.60 201.30 L187.25 204.00 L187.75 204.00 L188.40 201.30 L189.00 201.30 L189.65 204.00 L190.15 204.00 L190.80 201.30 L191.40 201.30 L192.05 204.00 L192.55 204.00 L193.20 201.30 L205.50 201.30 L206.70 200.49 L207.40 199.28 L207.80 197.79 L207.92 201.30 L212.60 201.30 L213.25 204.00 L213.75 204.00 L214.40 201.30 L221.10 201.30 L221.75 204.00 L222.25 204.00 L222.90 201.30 L223.30 201.30 L223.95 204.00 L224.45 204.00 L225.10 201.30 L225.50 201.30 L226.15 204.00 L226.65 204.00 L227.30 201.30 L227.70 201.30 L228.35 204.00 L228.85 204.00 L229.50 201.30 L229.90 201.30 L230.55 204.00 L231.05 204.00 L231.70 201.30 L232.60 201.30 L233.25 204.00 L233.75 204.00 L234.40 201.30 L236.10 201.30 L236.75 204.00 L237.25 204.00 L237.90 201.30 L238.10 201.30 L238.75 204.00 L239.25 204.00 L239.90 201.30 L240.10 201.30 L240.75 204.00 L241.25 204.00 L241.90 201.30 L245.50 201.30 L246.70 200.49 L247.40 199.28 L247.80 197.79 L247.92 201.30 L248.60 201.30 L249.25 204.00 L249.75 204.00 L250.40 201.30 L250.60 201.30 L251.25 204.00 L251.75 204.00 L252.40 201.30 L266.10 201.30 L266.75 204.00 L267.25 204.00 L267.90 201.30 L275.80 201.30 L276.45 204.00 L276.95 204.00 L277.60 201.30 L279.10 201.30 L280.30 200.49 L281.00 199.28 L281.40 197.79 L281.52 201.30 L284.00 201.30 L284.65 204.00 L285.15 204.00 L285.80 201.30 L291.70 201.30 L292.90 200.49 L293.60 199.28 L294.00 197.79 L294.12 201.30 L297.90 201.30 L299.10 200.49 L299.80 199.28 L300.20 197.79 L300.32 201.30 L320.70 201.30 L321.35 204.00 L321.85 204.00 L322.50 201.30 L323.00 201.30 L323.65 204.00 L324.15 204.00 L324.80 201.30 L325.30 201.30 L325.95 204.00 L326.45 204.00 L327.10 201.30 L327.60 201.30 L328.25 204.00 L328.75 204.00 L329.40 201.30 L329.90 201.30 L330.55 204.00 L331.05 204.00 L331.70 201.30 L331.75 201.30 L332.20 200.49 L332.90 199.28 L333.30 197.79 L333.42 201.30 L344.10 201.30 L344.75 204.00 L345.25 204.00 L345.90 201.30 L349.10 201.30 L349.75 204.00 L350.25 204.00 L350.90 201.30 L363.10 201.30 L363.75 204.00 L364.25 204.00 L364.90 201.30 L376.30 201.30 L376.95 204.27 L377.45 204.27 L378.10 201.30 L378.10 201.30 L378.30 204.30 L378.40 185.20 L379.20 185.00 L379.50 163.20 L379.90 163.20 L384.70 163.20 L385.35 165.90 L385.85 165.90 L386.50 163.20 L386.55 163.20 L386.60 162.39 L387.20 161.17 L387.60 159.69 L387.72 163.20 L394.70 163.20 L395.90 162.39 L396.60 161.17 L397.00 159.69 L397.12 163.20 L402.30 163.20 L402.95 165.90 L403.45 165.90 L404.10 163.20 L404.50 163.20 L405.15 165.90 L405.65 165.90 L406.30 163.20 L406.30 163.20 L406.95 165.09 L407.45 165.09 L408.10 163.20 L408.15 163.20 L409.10 162.39 L409.80 161.17 L410.20 159.69 L410.32 163.20 L419.80 163.20 L420.45 165.90 L420.95 165.90 L421.60 163.20 L423.50 163.20 L424.15 165.09 L424.65 165.09 L425.30 163.20 L425.35 163.20 L425.75 165.90 L426.25 165.90 L426.90 163.20 L433.10 163.20 L433.30 163.20 L433.50 180.00 L434.50 180.50 L434.80 200.30 L436.50 201.30 L436.80 201.30 L440.10 201.30 L440.75 204.00 L441.25 204.00 L441.90 201.30 L451.10 201.30 L452.30 200.49 L453.00 199.28 L453.40 197.79 L453.52 201.30 L459.10 201.30 L459.75 204.00 L460.25 204.00 L460.90 201.30 L461.50 201.30 L462.15 210.21 L462.65 210.21 L463.30 201.30 L463.70 201.30 L464.35 204.00 L464.85 204.00 L465.50 201.30 L465.55 201.30 L465.90 200.49 L466.60 199.28 L467.00 197.79 L467.12 201.30 L471.70 201.30 L472.90 200.49 L473.60 199.28 L474.00 197.79 L474.12 201.30 L475.10 201.30 L475.75 204.00 L476.25 204.00 L476.90 201.30 L480.10 201.30 L480.75 204.00 L481.25 204.00 L481.90 201.30 L482.30 201.30 L482.95 204.00 L483.45 204.00 L484.10 201.30 L484.20 201.30 L485.40 200.49 L486.10 199.28 L486.50 197.79 L486.62 201.30 L487.60 201.30 L488.25 204.00 L488.75 204.00 L489.40 201.30 L489.80 201.30 L490.45 204.00 L490.95 204.00 L491.60 201.30 L505.40 201.30 L506.60 200.49 L507.30 199.28 L507.70 197.79 L507.82 201.30 L508.40 201.30 L509.05 204.00 L509.55 204.00 L510.20 201.30 L513.20 201.30 L514.40 200.49 L515.10 199.28 L515.50 197.79 L515.62 201.30 L522.10 201.30 L522.75 204.00 L523.25 204.00 L523.90 201.30 L524.50 201.30 L525.15 204.00 L525.65 204.00 L526.30 201.30 L526.90 201.30 L527.55 204.00 L528.05 204.00 L528.70 201.30 L529.30 201.30 L529.95 204.00 L530.45 204.00 L531.10 201.30 L531.70 201.30 L532.35 204.00 L532.85 204.00 L533.50 201.30 L534.10 201.30 L534.75 204.00 L535.25 204.00 L535.90 201.30 L536.50 201.30 L537.15 204.00 L537.65 204.00 L538.30 201.30 L538.90 201.30 L539.55 204.00 L540.05 204.00 L540.70 201.30 L543.00 201.30 L544.20 200.49 L544.90 199.28 L545.30 197.79 L545.42 201.30 L549.90 201.30 L550.55 204.00 L551.05 204.00 L551.70 201.30 L551.75 201.30 L551.90 200.49 L552.60 199.28 L553.00 197.79 L553.12 201.30 L568.10 201.30 L569.30 200.49 L570.00 199.28 L570.40 197.79 L570.52 201.30 L574.10 201.30 L574.75 204.00 L575.25 204.00 L575.90 201.30 L577.10 201.30 L577.75 204.00 L578.25 204.00 L578.90 201.30 L590.10 201.30 L590.75 204.00 L591.25 204.00 L591.90 201.30 L592.40 201.30 L593.05 204.00 L593.55 204.00 L594.20 201.30 L594.70 201.30 L595.35 204.00 L595.85 204.00 L596.50 201.30 L597.00 201.30 L597.65 204.00 L598.15 204.00 L598.80 201.30 L599.30 201.30 L599.95 204.00 L600.45 204.00 L601.10 201.30 L601.60 201.30 L602.25 204.00 L602.75 204.00 L603.40 201.30 L603.90 201.30 L604.55 204.00 L605.05 204.00 L605.70 201.30 L606.20 201.30 L606.85 204.00 L607.35 204.00 L608.00 201.30 L615.20 201.30 L616.40 200.49 L617.10 199.28 L617.50 197.79 L617.62 201.30 L619.80 201.30 L620.45 204.00 L620.95 204.00 L621.60 201.30 L629.10 201.30 L629.75 204.00 L630.25 204.00 L630.90 201.30 L631.30 201.30 L631.95 204.00 L632.45 204.00 L633.10 201.30 L633.50 201.30 L634.15 204.00 L634.65 204.00 L635.30 201.30 L649.60 201.30 L650.25 204.00 L650.75 204.00 L651.40 201.30 L651.45 201.30 L652.50 200.49 L653.20 199.28 L653.60 197.79 L653.72 201.30 L655.90 201.30 L656.55 204.00 L657.05 204.00 L657.70 201.30 L674.70 201.30 L675.35 204.00 L675.85 204.00 L676.50 201.30 L676.90 201.30 L677.55 204.00 L678.05 204.00 L678.70 201.30 L679.10 201.30 L679.75 204.00 L680.25 204.00 L680.90 201.30 L681.30 201.30 L681.95 204.00 L682.45 204.00 L683.10 201.30 L683.20 201.30" stroke="#1f7a3a" stroke-width="1.15" fill="none" stroke-linejoin="miter" stroke-miterlimit="3"/>
<path d="M135.20 484.20 L136.35 486.70 L137.50 486.70 L138.65 486.70 L139.80 484.20 L140.95 484.20 L142.10 486.70 L143.25 486.70 L144.40 486.70 L145.55 486.70 L146.70 486.70 L147.85 486.70 L149.00 484.20 L150.15 486.70 L151.30 486.70 L152.45 486.70 L153.60 486.70 L154.75 484.20 L155.90 486.70 L157.05 484.20 L158.20 486.70 L159.35 486.70 L160.50 486.70 L161.65 486.70 L162.80 484.20 L163.95 486.70 L165.10 486.70 L165.95 486.70 L166.25 489.95 L166.75 489.70 L167.05 486.70 L168.20 484.20 L169.05 486.70 L169.35 489.95 L169.85 489.70 L170.15 486.70 L171.30 484.20 L172.45 486.70 L173.60 484.20 L174.75 484.20 L175.90 486.70 L176.75 486.70 L177.05 489.95 L177.55 489.70 L177.85 486.70 L179.00 486.70 L180.15 484.20 L181.30 484.20 L182.45 486.70 L183.60 486.70 L184.75 484.20 L185.90 486.70 L187.05 486.70 L188.20 486.70 L189.35 484.20 L190.50 486.70 L191.65 486.70 L192.80 484.20 L193.95 486.70 L195.10 486.70 L196.25 486.70 L197.40 486.70 L198.55 486.70 L199.70 486.70 L200.85 486.70 L202.00 484.20 L203.15 484.20 L204.30 484.20 L205.45 484.20 L206.60 486.70 L207.75 484.20 L208.90 484.20 L210.05 486.70 L211.20 486.70 L212.35 486.70 L213.50 484.20 L214.65 486.70 L215.80 486.70 L216.95 484.20 L218.10 486.70 L219.25 486.70 L220.40 486.70 L221.55 486.70 L222.70 484.20 L223.85 486.70 L225.00 486.70 L226.15 484.20 L227.30 486.70 L228.45 486.70 L229.60 486.70 L230.75 486.70 L231.90 484.20 L233.05 486.70 L234.20 486.70 L235.35 486.70 L236.50 486.70 L237.65 484.20 L238.80 486.70 L239.95 484.20 L241.10 486.70 L242.25 486.70 L243.40 486.70 L244.55 486.70 L245.70 484.20 L246.85 486.70 L248.00 484.20 L249.15 484.20 L250.30 484.20 L251.45 484.20 L252.60 486.70 L253.75 484.20 L254.60 486.70 L254.90 489.95 L255.40 489.70 L255.70 486.70 L256.85 486.70 L258.00 486.70 L259.15 484.20 L260.30 486.70 L261.45 486.70 L262.60 486.70 L263.75 486.70 L264.90 484.20 L266.05 484.20 L267.20 484.20 L268.35 486.70 L269.50 486.70 L270.65 486.70 L271.80 486.70 L272.95 484.20 L274.10 486.70 L275.25 486.70 L276.40 484.20 L277.55 484.20 L278.70 484.20 L279.85 484.20 L281.00 484.20 L282.15 484.20 L283.30 486.70 L284.45 486.70 L284.80 486.70 L285.00 490.30 L285.30 489.50 L285.40 408.80 L286.50 408.60 L286.60 374.00 L287.05 372.20 L287.15 396.00 L287.50 372.80 L287.60 396.30 L288.60 396.50 L288.75 425.50 L289.50 429.20 L290.60 428.00 L290.90 405.50 L291.30 422.54 L291.30 405.29 L292.71 405.29 L292.71 410.49 L293.86 410.49 L293.86 415.61 L294.90 415.61 L294.90 422.54 L295.60 422.54 L295.60 420.70 L295.60 404.33 L296.79 404.33 L296.79 410.63 L297.96 410.63 L297.96 416.61 L299.11 416.61 L299.11 420.70 L299.90 420.70 L299.90 421.71 L299.90 405.59 L300.87 405.59 L300.87 409.31 L301.58 409.31 L301.58 415.75 L302.49 415.75 L302.49 421.71 L304.20 421.71 L304.20 421.40 L304.20 404.87 L305.37 404.87 L305.37 409.57 L306.27 409.57 L306.27 416.71 L307.36 416.71 L307.36 421.40 L308.50 421.40 L308.50 421.11 L308.50 405.09 L309.64 405.09 L309.64 409.82 L310.76 409.82 L310.76 416.80 L311.92 416.80 L311.92 421.11 L312.80 421.11 L312.80 419.47 L312.80 403.82 L313.56 403.82 L313.56 410.18 L314.50 410.18 L314.50 416.38 L315.23 416.38 L315.23 419.47 L317.10 419.47 L317.10 420.60 L317.10 406.24 L318.51 406.24 L318.51 409.36 L319.54 409.36 L319.54 415.60 L320.54 415.60 L320.54 420.60 L321.40 420.60 L321.40 421.22 L321.40 403.86 L322.71 403.86 L322.71 410.79 L323.46 410.79 L323.46 416.22 L324.51 416.22 L324.51 421.22 L325.70 421.22 L325.70 419.54 L325.70 404.50 L326.67 404.50 L326.67 410.69 L327.47 410.69 L327.47 415.46 L328.47 415.46 L328.47 419.54 L330.00 419.54 L330.00 419.59 L330.00 404.96 L331.03 404.96 L331.03 410.71 L332.09 410.71 L332.09 415.87 L333.00 415.87 L333.00 419.59 L334.30 419.59 L334.30 421.50 L334.30 405.96 L335.52 405.96 L335.52 410.10 L336.39 410.10 L336.39 415.65 L337.20 410.00 L337.40 384.50 L338.10 409.50 L338.50 384.30 L339.40 384.60 L339.50 369.80 L340.60 370.00 L340.70 356.80 L341.80 357.00 L341.90 325.50 L342.30 338.41 L342.30 327.95 L343.35 327.95 L343.35 322.22 L343.55 322.22 L343.55 328.75 L344.75 328.75 L344.75 342.82 L345.25 342.82 L345.25 338.41 L346.60 338.41 L346.60 337.28 L346.60 328.90 L347.65 328.90 L347.65 321.81 L347.85 321.81 L347.85 329.70 L349.05 329.70 L349.05 345.03 L349.55 345.03 L349.55 337.28 L350.90 337.28 L350.90 338.65 L350.90 327.82 L351.95 327.82 L351.95 320.12 L352.15 320.12 L352.15 328.62 L353.35 328.62 L353.35 345.15 L353.85 345.15 L353.85 338.65 L355.20 338.65 L355.20 337.59 L355.20 329.26 L356.25 329.26 L356.25 321.70 L356.45 321.70 L356.45 330.06 L357.65 330.06 L357.65 343.94 L358.15 343.94 L358.15 337.59 L359.50 337.59 L359.50 337.95 L359.50 328.86 L360.55 328.86 L360.55 321.43 L360.75 321.43 L360.75 329.66 L361.95 329.66 L361.95 345.13 L362.45 345.13 L362.45 337.95 L363.80 337.95 L363.80 337.38 L363.80 328.67 L364.85 328.67 L364.85 320.15 L365.05 320.15 L365.05 329.47 L366.25 329.47 L366.25 344.82 L366.75 344.82 L366.75 337.38 L368.10 337.38 L368.10 337.28 L368.10 328.03 L369.15 328.03 L369.15 321.15 L369.35 321.15 L369.35 328.83 L370.55 328.83 L370.55 343.89 L371.05 343.89 L371.05 337.28 L372.40 337.28 L372.40 338.27 L372.40 328.41 L373.45 328.41 L373.45 321.42 L373.65 321.42 L373.65 329.21 L374.85 329.21 L374.85 343.03 L375.35 343.03 L375.35 338.27 L376.70 338.27 L376.70 337.87 L376.70 328.63 L377.75 328.63 L377.75 321.63 L377.95 321.63 L377.95 329.43 L378.90 345.00 L379.20 380.60 L379.60 378.00 L380.60 345.00 L380.70 291.70 L381.40 292.00 L381.60 260.50 L382.20 291.50 L382.50 260.50 L383.30 260.20 L383.50 243.00 L383.90 254.72 L383.90 239.80 L384.95 239.80 L384.95 231.36 L385.15 231.36 L385.15 240.60 L386.35 240.60 L386.35 262.08 L386.85 262.08 L386.85 254.72 L388.20 254.72 L388.20 254.50 L388.20 238.25 L389.25 238.25 L389.25 230.52 L389.45 230.52 L389.45 239.05 L390.65 239.05 L390.65 261.35 L391.15 261.35 L391.15 254.50 L392.50 254.50 L392.50 253.37 L392.50 238.51 L393.55 238.51 L393.55 229.45 L393.75 229.45 L393.75 239.31 L394.95 239.31 L394.95 262.32 L395.45 262.32 L395.45 253.37 L396.80 253.37 L396.80 253.82 L396.80 238.76 L397.85 238.76 L397.85 228.76 L398.05 228.76 L398.05 239.56 L399.25 239.56 L399.25 262.16 L399.75 262.16 L399.75 253.82 L401.10 253.82 L401.10 254.25 L401.10 238.08 L402.15 238.08 L402.15 227.64 L402.35 227.64 L402.35 238.88 L403.55 238.88 L403.55 261.20 L404.05 261.20 L404.05 254.25 L405.40 254.25 L405.40 252.65 L405.40 237.61 L406.45 237.61 L406.45 226.21 L406.65 226.21 L406.65 238.41 L407.85 238.41 L407.85 262.98 L408.35 262.98 L408.35 252.65 L409.70 252.65 L409.70 252.58 L409.70 238.42 L410.75 238.42 L410.75 227.23 L410.95 227.23 L410.95 239.22 L412.15 239.22 L412.15 261.81 L412.65 261.81 L412.65 252.58 L414.00 252.58 L414.00 253.37 L414.00 237.43 L415.05 237.43 L415.05 225.48 L415.25 225.48 L415.25 238.23 L416.45 238.23 L416.45 260.88 L416.95 260.88 L416.95 253.37 L418.30 253.37 L418.30 252.92 L418.30 237.75 L419.35 237.75 L419.35 224.53 L419.55 224.53 L419.55 238.55 L420.75 238.55 L420.75 262.35 L421.25 262.35 L421.25 252.92 L422.60 252.92 L422.60 253.37 L422.60 238.22 L423.65 238.22 L423.65 224.79 L423.85 224.79 L423.85 239.02 L425.05 239.02 L425.05 261.58 L425.55 261.58 L425.55 253.37 L426.90 253.37 L426.90 252.89 L426.90 238.19 L427.95 238.19 L427.95 224.40 L428.15 224.40 L428.15 238.99 L429.35 238.99 L429.35 260.98 L429.85 260.98 L429.85 252.89 L431.20 252.89 L431.20 252.18 L431.20 237.45 L432.25 237.45 L432.25 220.97 L432.45 220.97 L432.45 238.25 L434.00 238.25 L434.00 244.80 L434.30 294.70 L435.20 295.00 L435.50 313.30 L436.30 295.20 L436.80 313.50 L437.30 295.50 L437.60 333.00 L438.60 334.00 L439.50 364.20 L440.00 362.00 L440.60 330.00 L441.00 332.28 L441.00 319.75 L442.05 319.75 L442.05 309.92 L442.25 309.92 L442.25 320.55 L443.45 320.55 L443.45 342.45 L443.95 342.45 L443.95 332.28 L445.30 332.28 L445.30 331.65 L445.30 319.37 L446.35 319.37 L446.35 311.59 L446.55 311.59 L446.55 320.17 L447.75 320.17 L447.75 342.62 L448.25 342.62 L448.25 331.65 L449.60 331.65 L449.60 331.05 L449.60 317.81 L450.65 317.81 L450.65 311.23 L450.85 311.23 L450.85 318.61 L452.05 318.61 L452.05 341.29 L452.55 341.29 L452.55 331.05 L453.90 331.05 L453.90 329.91 L453.90 318.03 L454.95 318.03 L454.95 312.31 L455.15 312.31 L455.15 318.83 L456.35 318.83 L456.35 339.52 L456.85 339.52 L456.85 329.91 L458.20 329.91 L458.20 328.73 L458.20 317.85 L459.25 317.85 L459.25 310.45 L459.45 310.45 L459.45 318.65 L460.65 318.65 L460.65 339.84 L461.15 339.84 L461.15 328.73 L462.50 328.73 L462.50 328.57 L462.50 316.22 L463.55 316.22 L463.55 311.82 L463.75 311.82 L463.75 317.02 L464.95 317.02 L464.95 340.76 L465.45 340.76 L465.45 328.57 L466.80 328.57 L466.80 327.79 L466.80 316.01 L467.85 316.01 L467.85 310.39 L468.05 310.39 L468.05 316.81 L469.25 316.81 L469.25 340.31 L469.75 340.31 L469.75 327.79 L471.10 327.79 L471.10 327.23 L471.10 315.63 L472.15 315.63 L472.15 311.37 L472.35 311.37 L472.35 316.43 L473.55 316.43 L473.55 339.86 L474.05 339.86 L474.05 327.23 L475.40 327.23 L475.40 328.02 L475.40 315.99 L476.45 315.99 L476.45 310.48 L476.65 310.48 L476.65 316.79 L477.85 316.79 L477.85 338.63 L478.30 317.30 L478.50 352.00 L479.50 352.50 L479.70 389.00 L480.50 389.30 L480.80 401.50 L481.30 389.50 L481.80 401.80 L482.40 402.00 L482.60 409.60 L483.20 412.29 L483.20 394.68 L484.02 394.68 L484.02 401.48 L484.96 401.48 L484.96 406.69 L486.22 406.69 L486.22 412.29 L487.50 412.29 L487.50 411.64 L487.50 394.74 L488.36 394.74 L488.36 400.78 L489.30 400.78 L489.30 406.78 L490.23 406.78 L490.23 411.64 L491.80 411.64 L491.80 412.72 L491.80 396.98 L493.14 396.98 L493.14 401.48 L494.17 401.48 L494.17 407.06 L494.98 407.06 L494.98 412.72 L496.10 412.72 L496.10 413.80 L496.10 395.17 L497.12 395.17 L497.12 400.65 L498.14 400.65 L498.14 406.24 L499.18 406.24 L499.18 413.80 L500.40 413.80 L500.40 413.01 L500.40 394.51 L501.45 394.51 L501.45 401.49 L502.62 401.49 L502.62 406.30 L503.37 406.30 L503.37 413.01 L504.70 413.01 L504.70 413.31 L504.70 397.34 L505.83 397.34 L505.83 401.64 L506.62 401.64 L506.62 406.34 L507.77 406.34 L507.77 413.31 L509.00 413.31 L509.00 411.63 L509.00 395.52 L510.02 395.52 L510.02 400.55 L511.18 400.55 L511.18 407.42 L512.12 407.42 L512.12 411.63 L513.30 411.63 L513.30 414.09 L513.30 396.52 L514.34 396.52 L514.34 401.28 L515.47 401.28 L515.47 406.99 L516.59 406.99 L516.59 414.09 L517.60 414.09 L517.60 412.20 L517.60 394.67 L518.95 394.67 L518.95 401.52 L520.14 401.52 L520.14 407.27 L521.20 407.27 L521.20 412.20 L521.90 412.20 L521.90 414.06 L521.90 394.76 L523.11 394.76 L523.11 401.22 L524.29 401.22 L524.29 407.04 L525.24 407.04 L525.24 414.06 L526.20 414.06 L526.20 411.30 L526.20 396.25 L527.08 396.25 L527.08 401.39 L527.88 401.39 L527.88 407.79 L528.70 407.79 L528.70 411.30 L529.70 401.50 L529.90 450.40 L530.40 451.00 L530.60 495.90 L531.20 494.00 L531.80 487.00 L532.50 485.50 L533.20 483.20 L534.30 482.00 L534.50 482.00 L540.90 482.00 L542.10 481.50 L542.80 480.74 L543.20 479.82 L543.32 482.00 L544.10 482.00 L545.30 481.42 L546.00 480.56 L546.40 479.50 L546.52 482.00 L555.10 482.00 L555.75 483.44 L556.25 483.44 L556.90 482.00 L561.30 482.00 L561.95 483.44 L562.45 483.44 L563.10 482.00 L567.10 482.00 L567.75 483.68 L568.25 483.68 L568.90 482.00 L571.60 482.00 L571.80 482.60 L572.90 484.60 L574.00 482.60 L575.10 482.60 L576.20 484.60 L577.30 482.60 L578.40 484.60 L579.50 484.60 L580.60 484.60 L581.70 482.60 L582.80 484.60 L583.90 482.60 L585.00 484.60 L586.10 484.60 L587.20 482.60 L588.30 484.60 L589.40 482.60 L590.50 484.60 L591.60 482.60 L592.70 482.60 L593.80 484.60 L594.90 482.60 L596.00 484.60 L597.10 482.60 L598.20 484.60 L599.30 484.60 L599.50 484.60 L600.00 484.40 L600.05 484.40 L600.40 484.00 L601.10 483.39 L601.50 482.64 L601.62 484.40 L602.60 484.40 L603.25 487.10 L603.75 487.10 L604.40 484.40 L605.00 484.40 L605.65 487.10 L606.15 487.10 L606.80 484.40 L607.40 484.40 L608.05 487.10 L608.55 487.10 L609.20 484.40 L609.80 484.40 L610.45 487.10 L610.95 487.10 L611.60 484.40 L632.10 484.40 L632.75 486.56 L633.25 486.56 L633.90 484.40 L641.00 484.40 L641.50 484.40 L642.65 487.00 L643.80 484.40 L644.95 484.40 L646.10 487.00 L647.25 484.40 L648.40 484.40 L649.55 484.40 L650.70 487.00 L651.85 484.40 L653.00 484.40 L654.15 487.00 L655.30 484.40 L656.45 487.00 L657.60 487.00 L658.75 487.00 L659.90 484.40 L661.05 484.40 L662.20 484.40 L663.35 487.00 L664.50 487.00 L665.00 487.00 L665.20 484.60 L666.40 487.10 L667.60 484.60 L668.80 487.10 L670.00 487.10 L671.20 487.10 L672.40 487.10 L673.60 487.10 L674.80 487.10 L676.00 484.60 L677.20 487.10 L678.40 487.10 L679.60 484.60 L680.80 484.60 L682.00 487.10 L683.20 487.10" stroke="#b5691c" stroke-width="1.15" fill="none" stroke-linejoin="miter" stroke-miterlimit="3"/>
<rect x="134.3" y="1.0" width="549.60" height="550.00" fill="none" stroke="#1b1718" stroke-width="2.5"/>
<g font-family="Liberation Sans, sans-serif" style="filter:opacity(0.999)">
<text x="113.4" y="53.6" font-size="28.8" text-anchor="end" textLength="73.6" lengthAdjust="spacingAndGlyphs" fill="#1f1f1f" >PWM1</text>
<text x="117" y="82.6" font-size="28.8" text-anchor="end" textLength="80.2" lengthAdjust="spacingAndGlyphs" fill="#1f1f1f" >5V/DIV</text>
<text x="116.7" y="129.6" font-size="28.8" text-anchor="end" textLength="76.8" lengthAdjust="spacingAndGlyphs" fill="#1f1f1f" >PWM2</text>
<text x="117" y="158.6" font-size="28.8" text-anchor="end" textLength="80.2" lengthAdjust="spacingAndGlyphs" fill="#1f1f1f" >5V/DIV</text>
<text x="116.7" y="200" font-size="28.8" text-anchor="end" textLength="76.8" lengthAdjust="spacingAndGlyphs" fill="#1f1f1f" >PWM3</text>
<text x="117" y="230.0" font-size="28.8" text-anchor="end" textLength="80.2" lengthAdjust="spacingAndGlyphs" fill="#1f1f1f" >5V/DIV</text>
<rect x="71.95" y="393.3" width="2.0" height="19.8" fill="#1f1f1f"/>
<text x="116.1" y="418.8" font-size="22.6" text-anchor="end" textLength="37.6" lengthAdjust="spacingAndGlyphs" fill="#1f1f1f" >LED</text>
<text x="117" y="446.4" font-size="28.8" text-anchor="end" textLength="117.2" lengthAdjust="spacingAndGlyphs" fill="#1f1f1f" >6.67A/DIV</text>
<text x="343.7" y="592.3" font-size="28.8" text-anchor="start" textLength="129.2" lengthAdjust="spacingAndGlyphs" fill="#1f1f1f" >25µsec/DIV</text>
<text x="501.2" y="591.1" font-size="20.2" text-anchor="start" textLength="164.8" lengthAdjust="spacingAndGlyphs" fill="#c6e6bf" stroke="#c6e6bf" stroke-width="0.35">www.cntronics.com</text>
</g>
</svg>
</body></html>
